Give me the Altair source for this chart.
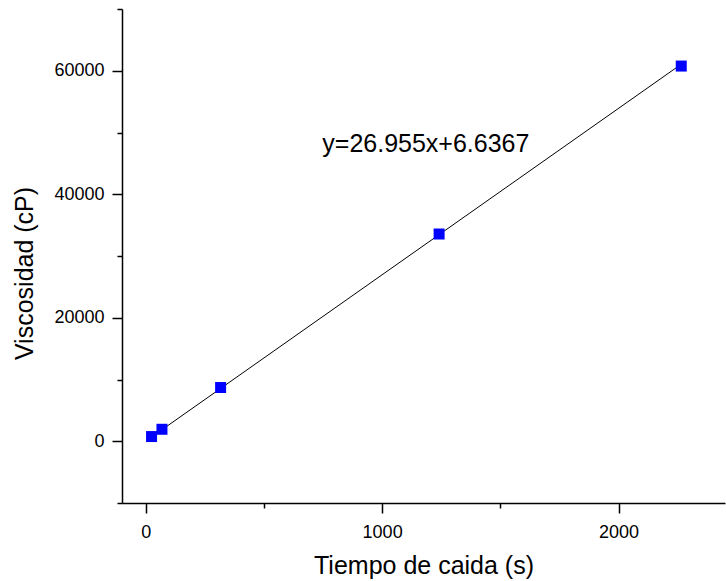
import altair as alt
import pandas as pd

# Measured fall times and viscosities
tiempo = [25, 69, 317, 1241, 2265]
viscosidad = [760, 1940, 8700, 33560, 60760]

# Linear fit shown on the chart
pendiente = 26.955
intercepto = 6.6367
ecuacion = "y=26.955x+6.6367"

# Axis ticks (major labelled, minor unlabelled)
x_ticks = [0, 500, 1000, 1500, 2000]
y_ticks = [-10000, 0, 10000, 20000, 30000, 40000, 50000, 60000, 70000]

FONT = "Liberation Sans"

puntos = pd.DataFrame({"t": tiempo, "v": viscosidad})
x_fit = [min(tiempo), max(tiempo)]
ajuste = pd.DataFrame({"t": x_fit, "v": [pendiente * x + intercepto for x in x_fit]})
etiqueta = pd.DataFrame({"t": [747], "v": [46850], "txt": [ecuacion]})

x_scale = alt.Scale(domain=[-100, 2450], nice=False, zero=False)
y_scale = alt.Scale(domain=[-10000, 70000], nice=False, zero=False)

x_axis = alt.Axis(
    title="Tiempo de caida (s)",
    values=x_ticks,
    labelExpr="datum.value % 1000 === 0 ? datum.label : ''",
    tickSize={"condition": {"test": "datum.value % 1000 === 0", "value": 10}, "value": 5},
    format="d",
    grid=False,
    titleY=70,
    titleBaseline="alphabetic",
    labelPadding=10,
)
y_axis = alt.Axis(
    title="Viscosidad (cP)",
    values=y_ticks,
    labelExpr="datum.value % 20000 === 0 ? datum.label : ''",
    tickSize={"condition": {"test": "datum.value % 20000 === 0", "value": 10}, "value": 5},
    format="d",
    grid=False,
    titleX=-90,
    titleY=264,
    titleBaseline="alphabetic",
    labelPadding=8,
)

linea = alt.Chart(ajuste).mark_line(color="black", strokeWidth=1).encode(
    x=alt.X("t:Q", scale=x_scale, axis=x_axis),
    y=alt.Y("v:Q", scale=y_scale, axis=y_axis),
)

marcas = alt.Chart(puntos).mark_square(size=121, color="#0000FF", opacity=1).encode(
    x=alt.X("t:Q", scale=x_scale),
    y=alt.Y("v:Q", scale=y_scale),
)

texto = alt.Chart(etiqueta).mark_text(
    align="left", baseline="alphabetic", fontSize=25, font=FONT, color="black"
).encode(
    x=alt.X("t:Q", scale=x_scale),
    y=alt.Y("v:Q", scale=y_scale),
    text="txt:N",
)

chart = (
    alt.layer(linea, marcas, texto)
    .properties(
        width=603,
        height=494,
        autosize=alt.AutoSizeParams(type="none"),
        padding={"left": 122, "top": 9, "right": 1, "bottom": 78},
        background="white",
    )
    .configure_view(stroke=None)
    .configure_axis(
        domainColor="black",
        domainWidth=1.5,
        tickColor="black",
        tickWidth=1.5,
        labelFont=FONT,
        labelFontSize=18,
        labelColor="black",
        titleFont=FONT,
        titleFontSize=25,
        titleFontWeight="normal",
        titleColor="black",
    )
)

chart.save("out.html", embed_options={"renderer": "svg", "actions": False})
